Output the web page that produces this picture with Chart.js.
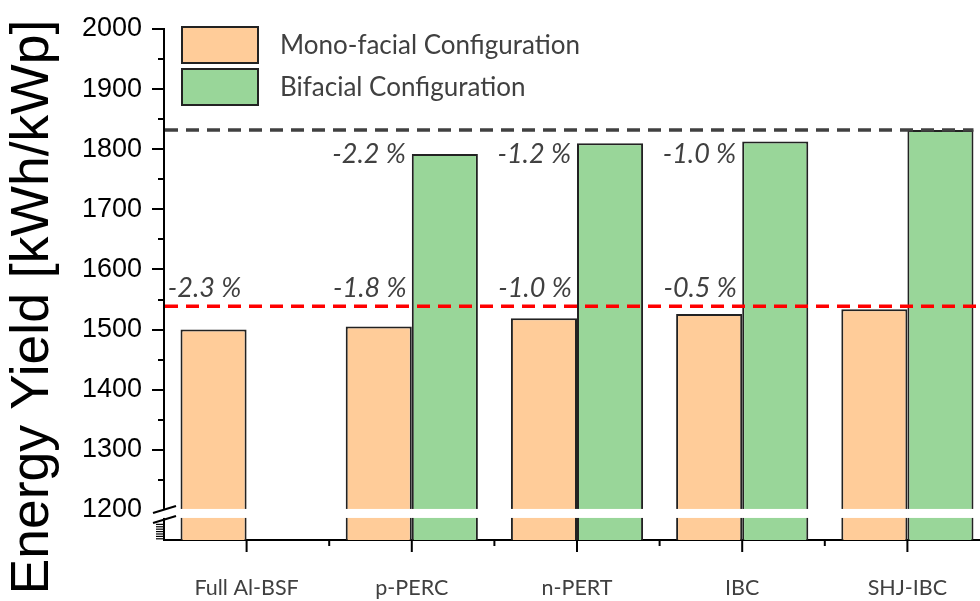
<!DOCTYPE html>
<html>
<head>
<meta charset="utf-8">
<script src="https://cdn.jsdelivr.net/npm/chart.js@4.4.1/dist/chart.umd.min.js"></script>
<style>
  html, body { margin: 0; padding: 0; background: #fff; overflow: hidden; }
  #wrap { width: 995px; height: 601px; position: relative; }
</style>
</head>
<body>
<div id="wrap"><canvas id="c"></canvas></div>
<script>
// ---- data ----
const categories = ['Full Al-BSF', 'p-PERC', 'n-PERT', 'IBC', 'SHJ-IBC'];
const seriesNames = ['Mono-facial Configuration', 'Bifacial Configuration'];
const monoYield = [1500, 1505, 1519, 1526, 1534];
const bifacialYield = [null, 1792, 1810, 1813, 1832];
const monoLoss = ['-2.3 %', '-1.8 %', '-1.0 %', '-0.5 %', null];
const bifacialLoss = [null, '-2.2 %', '-1.2 %', '-1.0 %', null];
const monoReference = 1539;
const bifacialReference = 1832;
const yMin = 1150, yMax = 2000, yStep = 50;
const yTitle = 'Energy Yield [kWh/kWp]';

const MONO_COLOR = '#ffcc99';
const BI_COLOR = '#99d699';
const TEXT_GRAY = '#404040';
const HUMANIST = "Lato, 'Open Sans', sans-serif";

const decor = {
  id: 'decor',
  afterDatasetsDraw(chart) {
    const ctx = chart.ctx;
    const xs = chart.scales.x, ys = chart.scales.y;
    const area = chart.chartArea;
    ctx.save();

    // reference dashed lines
    ctx.lineWidth = 3.5;
    ctx.setLineDash([13, 8]);
    ctx.strokeStyle = '#404040';
    const metaBi = chart.getDatasetMeta(1);
    const lastBar = metaBi.data[metaBi.data.length - 1];
    let yb = ys.getPixelForValue(bifacialReference);
    ctx.beginPath(); ctx.moveTo(area.left + 1, yb); ctx.lineTo(lastBar.x + lastBar.width / 2, yb); ctx.stroke();
    ctx.strokeStyle = '#ff0000';
    let ym = ys.getPixelForValue(monoReference);
    ctx.beginPath(); ctx.moveTo(area.left + 1, ym); ctx.lineTo(area.right, ym); ctx.stroke();
    ctx.setLineDash([]);

    // percent labels
    const metaMono = chart.getDatasetMeta(0);
    ctx.fillStyle = TEXT_GRAY;
    ctx.font = "italic 27px " + HUMANIST;
    ctx.textBaseline = 'alphabetic';
    monoLoss.forEach((t, i) => {
      if (!t) return;
      const b = metaMono.data[i];
      ctx.textAlign = 'center';
      ctx.fillText(t, b.x - 9, ym - 9);
    });
    bifacialLoss.forEach((t, i) => {
      if (!t) return;
      const b = metaBi.data[i];
      ctx.textAlign = 'right';
      ctx.fillText(t, b.x - b.width / 2 - 6, yb + 33);
    });

    // axis ticks (manual, major/minor)
    ctx.strokeStyle = '#000';
    ctx.lineWidth = 2;
    for (let v = yMin + yStep; v <= yMax; v += yStep) {
      const y = Math.round(ys.getPixelForValue(v));
      const len = (v % 100 === 0) ? 12 : 6;
      if (v === 1200) continue;
      ctx.beginPath(); ctx.moveTo(area.left - len, y); ctx.lineTo(area.left, y); ctx.stroke();
    }
    // dense ticks below the break
    ctx.lineWidth = 1.2;
    for (let v = 1152; v <= 1176; v += 4) {
      const y = ys.getPixelForValue(v);
      ctx.beginPath(); ctx.moveTo(area.left - 8, y); ctx.lineTo(area.left, y); ctx.stroke();
    }
    ctx.lineWidth = 2;
    categories.forEach((c, i) => {
      const x = xs.getPixelForValue(i);
      ctx.beginPath(); ctx.moveTo(x, area.bottom); ctx.lineTo(x, area.bottom + 12); ctx.stroke();
      const xb = x - (xs.getPixelForValue(1) - xs.getPixelForValue(0)) / 2;
      if (i > 0) { ctx.beginPath(); ctx.moveTo(xb, area.bottom); ctx.lineTo(xb, area.bottom + 6); ctx.stroke(); }
    });

    // axis break at 1200
    const y12 = ys.getPixelForValue(1200);
    ctx.fillStyle = '#fff';
    ctx.fillRect(area.left - 4, y12 - 1, area.right - area.left + 10, 9);
    ctx.strokeStyle = '#000';
    ctx.lineWidth = 2;
    ctx.beginPath(); ctx.moveTo(area.left - 11, y12 + 3); ctx.lineTo(area.left + 12, y12 - 4); ctx.stroke();
    ctx.beginPath(); ctx.moveTo(area.left - 11, y12 + 13); ctx.lineTo(area.left + 12, y12 + 6); ctx.stroke();

    // legend
    const boxes = [[182, 27, MONO_COLOR], [182, 69, BI_COLOR]];
    ctx.font = "26px " + HUMANIST;
    ctx.textAlign = 'left';
    ctx.textBaseline = 'middle';
    boxes.forEach((bx, i) => {
      ctx.fillStyle = bx[2];
      ctx.fillRect(bx[0], bx[1], 76, 36);
      ctx.strokeStyle = '#222';
      ctx.lineWidth = 2;
      ctx.strokeRect(bx[0], bx[1], 76, 36);
      ctx.fillStyle = TEXT_GRAY;
      ctx.fillText(chart.data.datasets[i].label, 280, bx[1] + 19);
    });

    // y title
    ctx.save();
    ctx.translate(33, 307);
    ctx.rotate(-Math.PI / 2);
    ctx.fillStyle = '#000';
    ctx.font = "53.5px 'Liberation Sans', Arial, sans-serif";
    ctx.textAlign = 'center';
    ctx.textBaseline = 'middle';
    ctx.fillText(yTitle, 0, 0);
    ctx.restore();

    ctx.restore();
  }
};

new Chart(document.getElementById('c'), {
  type: 'bar',
  data: {
    labels: categories,
    datasets: [
      { label: seriesNames[0], data: monoYield, backgroundColor: MONO_COLOR, borderColor: '#222', borderWidth: 2 },
      { label: seriesNames[1], data: bifacialYield, backgroundColor: BI_COLOR, borderColor: '#222', borderWidth: 2 }
    ]
  },
  options: {
    responsive: true,
    maintainAspectRatio: false,
    animation: false,
    layout: { padding: { top: 29, right: 5, left: 0, bottom: 0 } },
    datasets: { bar: { categoryPercentage: 0.8, barPercentage: 1.0 } },
    plugins: { legend: { display: false }, tooltip: { enabled: false } },
    scales: {
      x: {
        grid: { display: false, drawTicks: false },
        border: { display: true, color: '#000', width: 2 },
        ticks: { color: TEXT_GRAY, font: { family: HUMANIST, size: 21.5 }, padding: 35, maxRotation: 0 },
        afterFit(s) { s.height = 61; s.paddingLeft = 0; s.paddingRight = 0; }
      },
      y: {
        min: yMin, max: yMax,
        grid: { display: false, drawTicks: false },
        border: { display: true, color: '#000', width: 2 },
        ticks: {
          stepSize: yStep, autoSkip: false, padding: 22, color: '#000',
          font: { family: "'Liberation Sans', Arial, sans-serif", size: 27 },
          callback: (v) => (v % 100 === 0 && v >= 1200) ? String(v) : ''
        },
        afterFit(s) { s.width = 164; s.paddingTop = 0; s.paddingBottom = 0; }
      }
    }
  },
  plugins: [decor]
});
</script>
</body>
</html>
